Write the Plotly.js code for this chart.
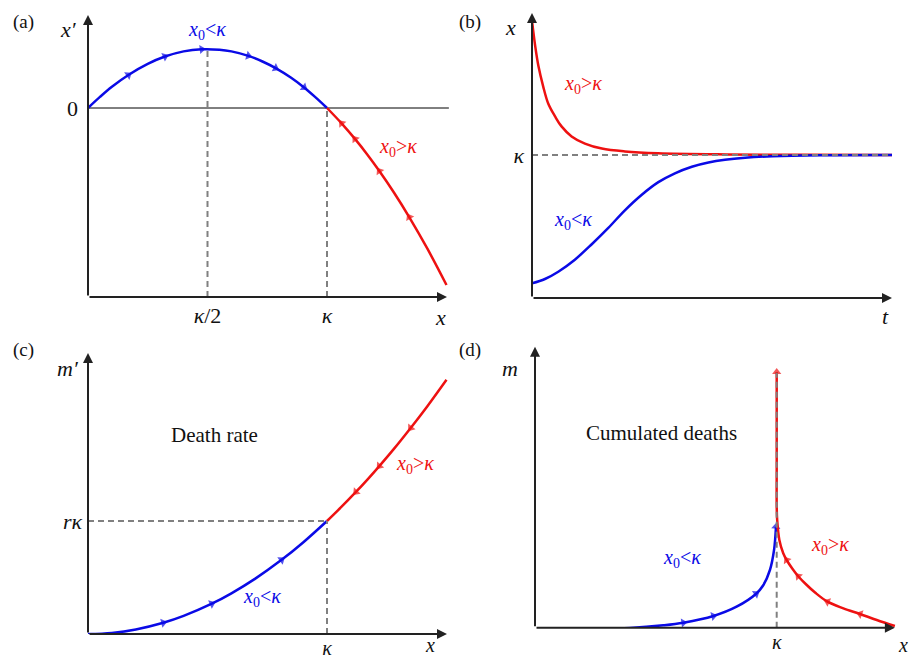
<!DOCTYPE html>
<html>
<head>
<meta charset="utf-8">
<script src="https://cdn.plot.ly/plotly-3.0.1.min.js"></script>
<style>html,body{margin:0;padding:0;background:#fff;}#chart{width:911px;height:659px;}</style>
</head>
<body>
<div id="chart"></div>
<script>
// ---- data ----
// (a) x' versus x
const aBlueX = [0, 0.05, 0.1, 0.169, 0.25, 0.322, 0.4, 0.476, 0.55, 0.6, 0.671, 0.73, 0.785, 0.85, 0.904, 0.95, 1.0];
const aBlueY = [0, 0.047, 0.09, 0.14, 0.187, 0.218, 0.24, 0.249, 0.247, 0.24, 0.221, 0.197, 0.169, 0.128, 0.087, 0.047, 0];
const aRedX = [1.5, 1.42, 1.344, 1.28, 1.219, 1.17, 1.117, 1.061, 1.0];
const aRedY = [-0.75, -0.596, -0.462, -0.358, -0.267, -0.199, -0.131, -0.065, 0];
// (b) x versus t
const bRedT = [0, 0.09, 0.18, 0.31, 0.45, 0.64, 0.82, 1.1, 1.47, 1.94, 2.58, 3.5, 5.4, 7.5, 10];
const bRedX = [1.94, 1.76, 1.62, 1.48, 1.36, 1.27, 1.2, 1.13, 1.08, 1.045, 1.025, 1.012, 1.004, 1.001, 1.0];
const bBlueT = [0, 0.36, 0.73, 1.19, 1.66, 2.12, 2.58, 3.05, 3.51, 3.97, 4.44, 4.9, 5.36, 5.92, 6.67, 8, 10];
const bBlueX = [0.103, 0.133, 0.184, 0.268, 0.376, 0.49, 0.613, 0.722, 0.81, 0.872, 0.918, 0.948, 0.967, 0.981, 0.991, 0.998, 1.0];
// (c) m' versus x
const cBlueX = [0, 0.1, 0.2, 0.315, 0.4, 0.518, 0.6, 0.7, 0.81, 0.9, 1.0];
const cBlueY = [0, 0.01, 0.04, 0.099, 0.16, 0.268, 0.36, 0.49, 0.656, 0.81, 1.0];
const cRedX = [1.5, 1.42, 1.35, 1.28, 1.219, 1.17, 1.121, 1.06, 1.0];
const cRedY = [2.25, 2.016, 1.823, 1.638, 1.486, 1.369, 1.257, 1.124, 1.0];
// (d) m versus x
const dBlueX = [0.007, 0.255, 0.393, 0.531, 0.614, 0.738, 0.834, 0.915, 0.945, 0.972, 0.989, 0.997];
const dBlueY = [-0.015, -0.012, -0.003, 0.024, 0.05, 0.117, 0.21, 0.34, 0.427, 0.577, 0.777, 1.01];
const dRedX = [1.489, 1.414, 1.345, 1.276, 1.21, 1.16, 1.12, 1.089, 1.065, 1.041, 1.027, 1.011, 1.002, 1.0, 1.0, 1.0, 1.0];
const dRedY = [0.017, 0.077, 0.137, 0.194, 0.26, 0.349, 0.437, 0.515, 0.59, 0.677, 0.744, 0.877, 1.077, 1.21, 1.6, 2.1, 2.557];
// tick labels
const K = '<i>κ</i>';
const aXTicks = [K + '/2', K];
const aYTicks = ['0'];
const bYTicks = [K];
const cXTicks = [K];
const cYTicks = ['<i>rκ</i>'];
const dXTicks = [K];
const lblLess = '<i>x</i><sub>0</sub>&lt;<i>κ</i>';
const lblMore = '<i>x</i><sub>0</sub>&gt;<i>κ</i>';

// ---- styling ----
const BLUE = '#0a0ae6', RED = '#ee1111', GRAY = '#808080', AX = '#222';
const SERIF = "'Liberation Serif', 'Times New Roman', serif";
const W = 911, H = 659;
const arrowIdx = {
  aBlue: [3, 5, 7, 10, 12, 14], aRed: [2, 4, 6, 7],
  cBlue: [3, 5, 8], cRed: [2, 4, 6],
  dBlue: [4, 5, 7, 11], dRed: [2, 4, 7, 9, 16]
};
function sizes(n, idx) { const s = []; for (let i = 0; i < n; i++) s.push(idx.includes(i) ? 8 : 0); return s; }
function curve(x, y, color, xa, ya, idx) {
  const t = {x: x, y: y, xaxis: xa, yaxis: ya, type: 'scatter', mode: 'lines',
    line: {color: color, width: 2.5, shape: 'spline', smoothing: 1}, cliponaxis: false, hoverinfo: 'skip'};
  if (idx) {
    t.mode = 'lines+markers';
    t.marker = {symbol: 'triangle-up', size: sizes(x.length, idx), color: color, angleref: 'previous', line: {width: 0}};
  }
  return t;
}
const traces = [
  curve(aBlueX, aBlueY, BLUE, 'x', 'y', arrowIdx.aBlue),
  curve(aRedX, aRedY, RED, 'x', 'y', arrowIdx.aRed),
  curve(bRedT, bRedX, RED, 'x2', 'y2', null),
  curve(bBlueT, bBlueX, BLUE, 'x2', 'y2', null),
  curve(cBlueX, cBlueY, BLUE, 'x3', 'y3', arrowIdx.cBlue),
  curve(cRedX, cRedY, RED, 'x3', 'y3', arrowIdx.cRed),
  curve(dBlueX, dBlueY, BLUE, 'x4', 'y4', arrowIdx.dBlue),
  curve(dRedX, dRedY, RED, 'x4', 'y4', arrowIdx.dRed)
];

function ax(domain, range, tickvals, ticktext, standoff, fs) {
  return {domain: domain, range: range, showgrid: false, zeroline: false, showline: false,
    ticks: '', tickvals: tickvals || [], ticktext: ticktext || [], fixedrange: true,
    tickfont: {family: SERIF, size: fs || 22, color: '#111'}, ticklabelstandoff: standoff || 0};
}
const px = v => v / W, py = v => 1 - v / H;
const layout = {
  width: W, height: H, margin: {l: 0, r: 0, t: 0, b: 0},
  paper_bgcolor: '#fff', plot_bgcolor: 'rgba(0,0,0,0)', showlegend: false,
  xaxis: ax([px(88), px(450)], [0, 362 / 239], [0.5, 1], aXTicks, 3),
  yaxis: ax([py(297), py(10)], [-(297 - 108) / 236, (108 - 10) / 236], [0], aYTicks, 9),
  xaxis2: ax([px(532), px(895)], [0, 363 / 36]),
  yaxis2: ax([py(298), py(10)], [0, 288 / 143], [1], bYTicks, 7),
  xaxis3: ax([px(88), px(450)], [0, 362 / 239], [1], cXTicks, 0, 20),
  yaxis3: ax([py(634), py(345)], [0, 289 / 113], [1], cYTicks, 5),
  xaxis4: ax([px(535), px(900)], [0, 365 / 241.7], [1], dXTicks, 0, 20),
  yaxis4: ax([py(627.7), py(340)], [0, 287.7 / 100]),
  shapes: [], annotations: []
};
layout.xaxis.anchor = 'y'; layout.yaxis.anchor = 'x';
layout.xaxis2.anchor = 'y2'; layout.yaxis2.anchor = 'x2';
layout.xaxis3.anchor = 'y3'; layout.yaxis3.anchor = 'x3';
layout.xaxis4.anchor = 'y4'; layout.yaxis4.anchor = 'x4';

const aBot = -(297 - 108) / 236;
function dash(xr, yr, x0, y0, x1, y1) {
  layout.shapes.push({type: 'line', xref: xr, yref: yr, x0: x0, y0: y0, x1: x1, y1: y1, layer: 'above',
    line: {color: GRAY, width: 2, dash: '6px,4px'}});
}
// zero line (a)
layout.shapes.push({type: 'line', xref: 'x', yref: 'y', x0: 0, y0: 0, x1: 1.51, y1: 0, layer: 'below', line: {color: '#000', width: 1}});
dash('x', 'y', 0.5, aBot, 0.5, 0.25);
dash('x', 'y', 1, aBot, 1, 0);
dash('x2', 'y2', 0, 1, 10, 1);
dash('x3', 'y3', 0, 1, 1, 1);
dash('x3', 'y3', 1, 0, 1, 1);
dash('x4', 'y4', 1, 0, 1, 2.55);

function axisArrow(xr, yr, x0, y0, x1, y1) {
  layout.annotations.push({xref: xr, yref: yr, axref: xr, ayref: yr, x: x1, y: y1, ax: x0, ay: y0,
    text: '', showarrow: true, arrowhead: 2, arrowsize: 1, arrowwidth: 2, arrowcolor: AX, standoff: 0});
}
axisArrow('x', 'y', 0, aBot, 1.502, aBot);
axisArrow('x', 'y', 0, aBot, 0, (108 - 15) / 236);
axisArrow('x2', 'y2', 0, 0, 10, 0);
axisArrow('x2', 'y2', 0, 0, 0, 1.993);
axisArrow('x3', 'y3', 0, 0, 1.502, 0);
axisArrow('x3', 'y3', 0, 0, 0, 2.487);
axisArrow('x4', 'y4', 0, 0, 1.489, 0);
axisArrow('x4', 'y4', 0, 0, 0, 2.81);

function txt(xr, yr, x, y, text, color, size) {
  layout.annotations.push({xref: xr, yref: yr, x: x, y: y, text: text, showarrow: false,
    xanchor: 'center', yanchor: 'middle', font: {family: SERIF, size: size || 20, color: color || '#111'}});
}
function ptxt(x, y, text, size) { txt('paper', 'paper', px(x), py(y), text, '#111', size); }
// panel letters
ptxt(23, 22, '(a)', 19);
ptxt(470, 22, '(b)', 19);
ptxt(23, 350, '(c)', 19);
ptxt(470, 350, '(d)', 19);
// axis names
ptxt(68, 30, '<i>x′</i>', 22);
ptxt(440, 317, '<i>x</i>', 22);
ptxt(510, 28, '<i>x</i>', 22);
ptxt(885, 316, '<i>t</i>', 22);
ptxt(68, 368, '<i>m′</i>', 22);
ptxt(430, 645, '<i>x</i>', 20);
ptxt(510, 368, '<i>m</i>', 22);
ptxt(903, 645, '<i>x</i>', 20);
// (a)
txt('x', 'y', 0.498, 0.33, lblLess, BLUE, 20);
txt('x', 'y', 1.297, -0.169, lblMore, RED, 20);
// (b)
txt('x2', 'y2', 1.42, 1.49, lblMore, RED, 20);
txt('x2', 'y2', 1.14, 0.545, lblLess, BLUE, 20);
// (c)
txt('x3', 'y3', 0.531, 1.761, 'Death rate', '#111', 21);
txt('x3', 'y3', 0.728, 0.319, lblLess, BLUE, 20);
txt('x3', 'y3', 1.368, 1.496, lblMore, RED, 20);
// (d)
txt('x4', 'y4', 0.525, 1.947, 'Cumulated deaths', '#111', 21);
txt('x4', 'y4', 0.608, 0.697, lblLess, BLUE, 20);
txt('x4', 'y4', 1.22, 0.827, lblMore, RED, 20);

Plotly.newPlot('chart', traces, layout, {displayModeBar: false, staticPlot: true});
</script>
</body>
</html>
